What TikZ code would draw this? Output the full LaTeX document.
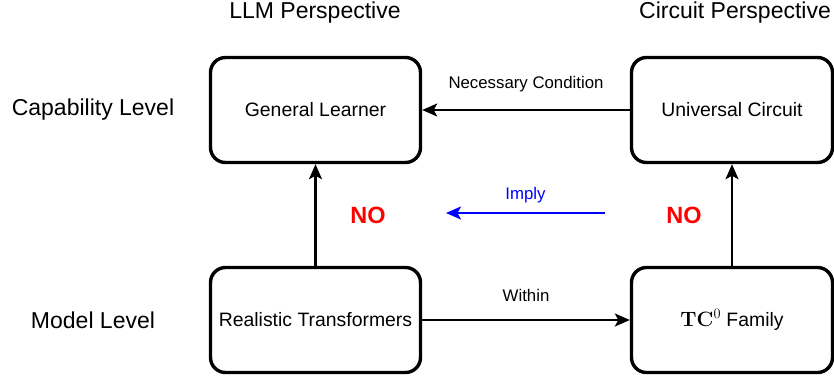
\documentclass[tikz,border=0pt]{standalone}
\usepackage[no-math]{fontspec}
\setmainfont{Liberation Sans}
\usepackage{amsmath}
\usepackage{tikz}
\usetikzlibrary{arrows.meta,positioning,calc}

\tikzset{
  levelbox/.style={draw, line width=3.4pt, rounded corners=15pt, minimum height=105pt, font=\fontsize{19.4}{23}\selectfont, inner sep=0pt},
  conn/.style={line width=2.1pt, -{Stealth[length=15pt,width=13pt,inset=3.5pt]}},
  edgelabel/.style={font=\fontsize{16.8}{20}\selectfont},
  headlabel/.style={font=\fontsize{23}{27}\selectfont},
  nolabel/.style={font=\fontsize{23.5}{28}\selectfont\bfseries, text=red}
}

\begin{document}
\begin{tikzpicture}[x=1pt,y=-1pt]
\useasboundingbox (0,0) rectangle (834,375);

% column and row headings
\node at (315,13) [headlabel] (llmP) {LLM Perspective};
\node at (735,13) [headlabel] (circP) {Circuit Perspective};
\node at (93,110) [headlabel] (capL) {Capability Level};
\node at (93,320) [headlabel] (modL) {Model Level};

% the four boxes
\node at (315.5,110) [levelbox, minimum width=210pt] (GL) {General Learner};
\node at (732,110) [levelbox, minimum width=201pt] (UC) {Universal Circuit};
\node at (315.5,320) [levelbox, minimum width=210pt] (RT) {Realistic Transformers};
\node at (732,320) [levelbox, minimum width=201pt] (TC) {$\mathbf{TC}^0$ Family};

% connectors
\draw[conn] (UC) -- (GL) node[midway, yshift=26pt, edgelabel] (necL) {Necessary Condition};
\draw[conn] (RT) -- (TC) node[midway, yshift=25pt, edgelabel] (withL) {Within};
\draw[conn] (RT) -- (GL);
\draw[conn] (TC) -- (UC);

% the implication in the middle
\coordinate (impS) at (605,213);
\coordinate (impE) at (446,213);
\draw[conn, blue] (impS) -- (impE) node[midway, yshift=18pt, edgelabel, text=blue] (impL) {Imply};
\node at (368,215) [nolabel] (noL) {NO};
\node at (684,215) [nolabel] (noR) {NO};

\end{tikzpicture}
\end{document}
